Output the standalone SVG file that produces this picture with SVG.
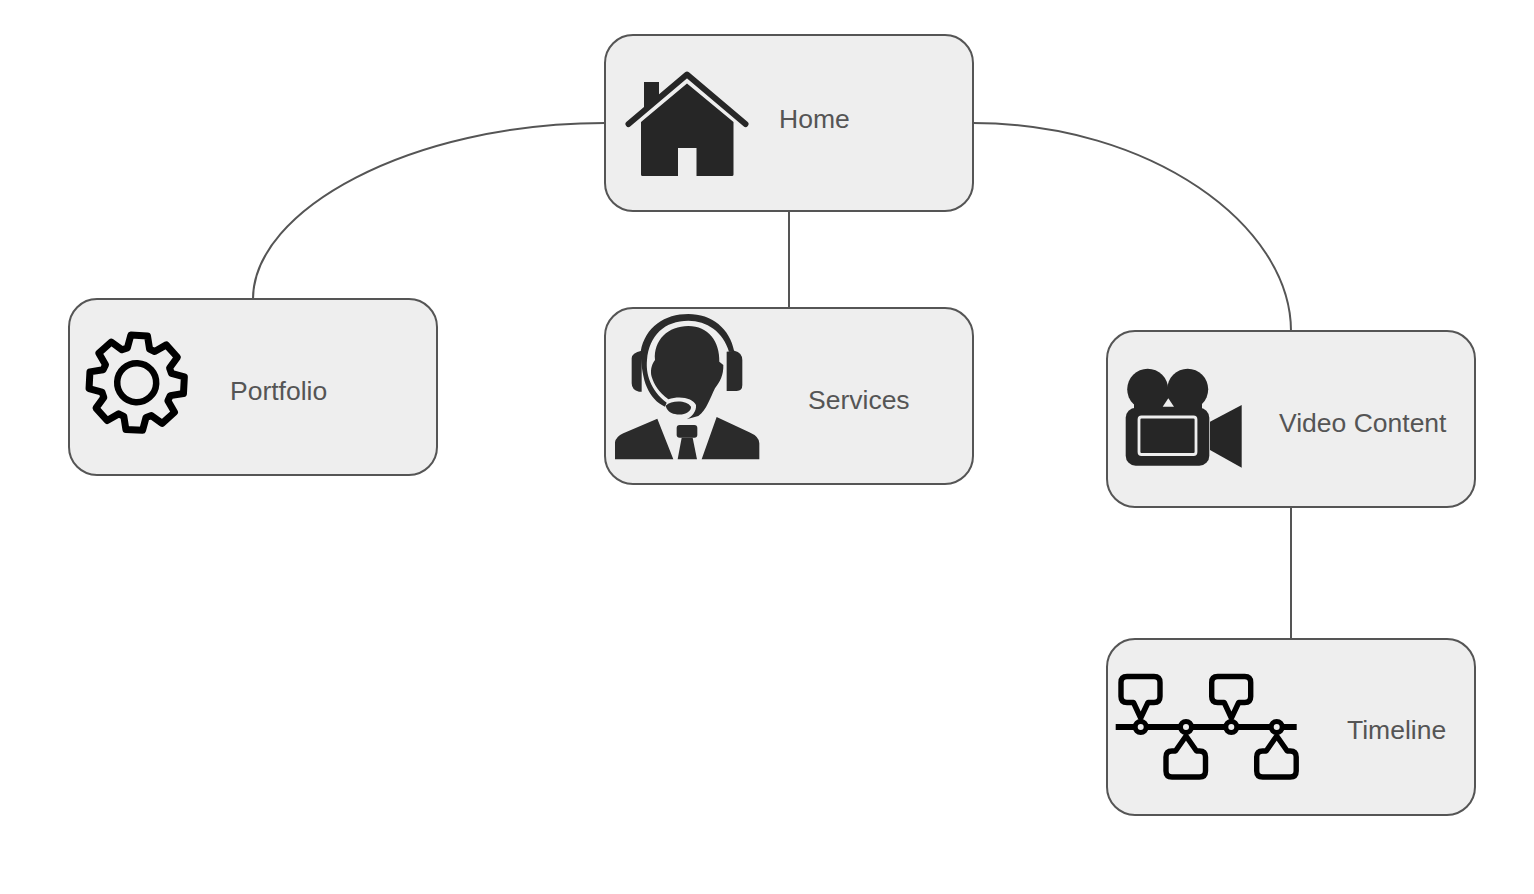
<svg xmlns="http://www.w3.org/2000/svg" width="1534" height="894" viewBox="0 0 1534 894">
<defs>
<style>
.box{fill:#eeeeee;stroke:#555555;stroke-width:2}
.conn{fill:none;stroke:#555555;stroke-width:2}
.label{font-family:"Liberation Sans",Arial,sans-serif;font-size:26.500px;fill:#555555}
.ic{fill:#262626}
.hd{fill:#2b2b2b}
.bk{fill:none;stroke:#000000;stroke-linejoin:round;stroke-linecap:round}
</style>
<path id="bubble-up" class="bk" stroke-width="5.400" d="M1127 676.500H1154Q1160 676.500 1160 682.500V696.500Q1160 702.500 1154 702.500H1148L1140.700 718L1133.500 702.500H1127Q1121 702.500 1121 696.500V682.500Q1121 676.500 1127 676.500Z"/>
<path id="bubble-down" class="bk" stroke-width="5.400" d="M1172 777H1199.500Q1205.500 777 1205.500 771V757Q1205.500 751 1199.500 751H1196.500L1186 736L1175.500 751H1172Q1166 751 1166 757V771Q1166 777 1172 777Z"/>
</defs>
<rect width="1534" height="894" fill="#ffffff"/>
<g id="connectors">
<path class="conn" d="M605 123C410 123 253 210 253 299"/>
<path class="conn" d="M973 123C1150 123 1291 225 1291 331"/>
<path class="conn" d="M789 211V308"/>
<path class="conn" d="M1291 507V639"/>
</g>
<g id="node-home">
<rect class="box" x="605" y="35" width="368" height="176" rx="28"/>
<path class="ic" d="M644 82H659V96L644 109Z"/>
<path d="M628.500 124L687 74.500L745.500 124" fill="none" stroke="#262626" stroke-width="6" stroke-linecap="round" stroke-linejoin="round"/>
<path class="ic" d="M687 83.500L733.500 122V174.500Q733.500 176 732 176H696.500V148H678V176H642.500Q641 176 641 174.500V122Z"/>
<text class="label" x="779" y="128">Home</text>
</g>
<g id="node-portfolio">
<rect class="box" x="69" y="299" width="368" height="176" rx="28"/>
<g transform="translate(136.700 382.700) rotate(3)">
<path class="bk" stroke-width="7" d="M-8.340-47.270L8.340-47.270 11.120-34.240 16.340-32.080 27.530-39.320 39.320-27.530 32.080-16.340 34.240-11.120 47.270-8.340 47.270 8.340 34.240 11.120 32.080 16.340 39.320 27.530 27.530 39.320 16.340 32.080 11.120 34.240 8.340 47.270-8.340 47.270-11.120 34.240-16.340 32.080-27.530 39.320-39.320 27.530-32.080 16.340-34.240 11.120-47.270 8.340-47.270-8.340-34.240-11.120-32.080-16.340-39.320-27.530-27.530-39.320-16.340-32.080-11.120-34.240Z"/>
<circle class="bk" r="19.500" stroke-width="6.500"/>
</g>
<text class="label" x="230" y="400">Portfolio</text>
</g>
<g id="node-services">
<rect class="box" x="605" y="308" width="368" height="176" rx="28"/>
<g transform="translate(625 310) scale(.3333)">
<path class="hd" d="M90 150C85 90 130 48 190 48C250 48 285 95 283 155L295 165C296 195 285 215 270 235C255 265 245 300 220 318L185 328C200 320 215 305 213 285C205 265 165 255 130 268C100 245 88 225 80 200C76 185 78 165 90 150Z"/>
<path class="hd" d="M47 125C60 50 120 12 190 12C260 12 315 55 328 125L312 125C295 65 245 32 190 32C120 32 72 75 66 150C62 190 75 240 125 278L120 290C70 265 50 215 47 125Z"/>
<path class="hd" d="M122 287C140 270 185 270 198 290C200 305 175 318 150 312C135 310 125 300 122 287Z"/>
<path class="hd" d="M50 122V245H42Q20 240 20 220V145Q20 128 50 122ZM328 122Q352 128 352 150V225Q352 243 335 243H305V125Z"/>
</g>
<g transform="translate(600 305) scale(.3333)">
<path class="hd" d="M45 463V412Q48 395 70 385L172 341L220 463ZM305 463L350 336L448 382Q478 395 478 415V463Z"/>
<rect x="230" y="360" width="62" height="38" rx="9" class="hd"/>
<path class="hd" d="M245 398H278L291 463H233Z"/>
</g>
<text class="label" x="808" y="409">Services</text>
</g>
<g id="node-video">
<rect class="box" x="1107" y="331" width="368" height="176" rx="28"/>
<circle class="ic" cx="1147.700" cy="389.300" r="20.500"/>
<circle class="ic" cx="1187.700" cy="389.300" r="20.500"/>
<rect class="ic" x="1125.700" y="407.700" width="83.600" height="58" rx="10"/>
<path class="ic" d="M1158 390H1178V410H1158Z"/>
<path class="ic" d="M1134 400H1202V412H1134Z"/>
<path fill="#eeeeee" d="M1168.300 398.300L1162.700 406.700H1174Z"/>
<rect x="1139" y="417" width="57" height="37.500" rx="2.500" fill="none" stroke="#eeeeee" stroke-width="2.800"/>
<path class="ic" d="M1210 421.700L1241.700 405V467.700L1210 450Z"/>
<text class="label" x="1279" y="432">Video Content</text>
</g>
<g id="node-timeline">
<rect class="box" x="1107" y="639" width="368" height="176" rx="28"/>
<path d="M1115.700 727H1296.700" stroke="#000000" stroke-width="6" fill="none"/>
<use href="#bubble-up"/>
<use href="#bubble-up" x="90.700"/>
<use href="#bubble-down"/>
<use href="#bubble-down" x="90.700"/>
<g fill="#eeeeee" stroke="#000000" stroke-width="5">
<circle cx="1140.700" cy="727" r="5.500"/>
<circle cx="1186" cy="727" r="5.500"/>
<circle cx="1231.300" cy="727" r="5.500"/>
<circle cx="1276.700" cy="727" r="5.500"/>
</g>
<text class="label" x="1347" y="739">Timeline</text>
</g>
</svg>
